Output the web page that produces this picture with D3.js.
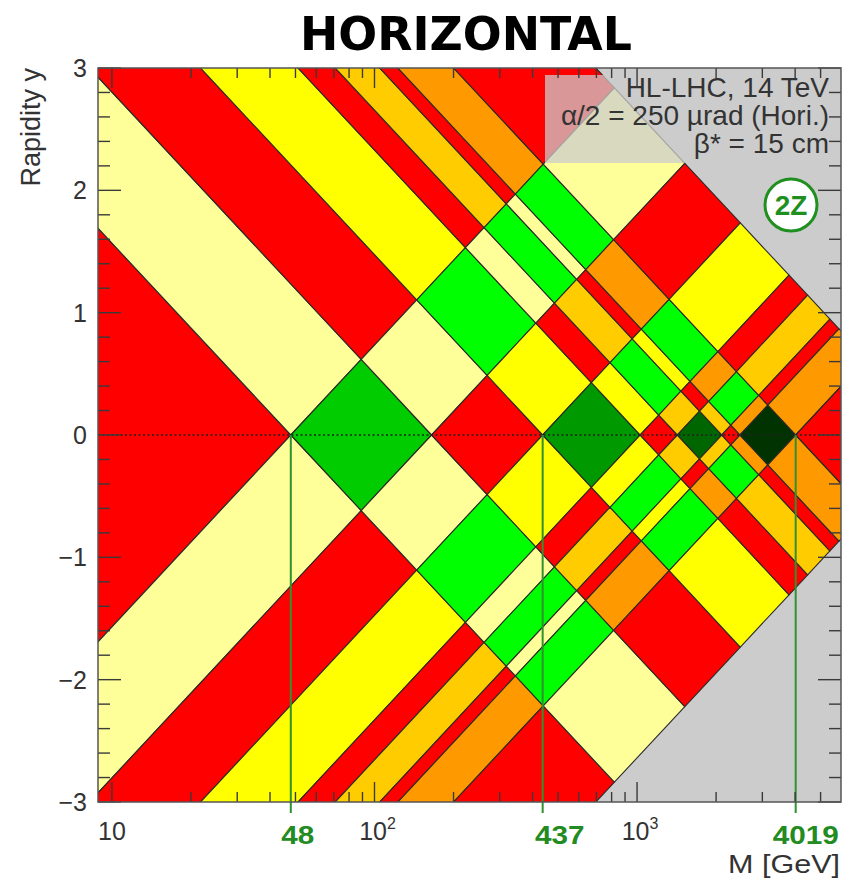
<!DOCTYPE html>
<html><head><meta charset="utf-8">
<script src="https://cdn.jsdelivr.net/npm/d3@7"></script>
<style>body{margin:0;background:#fff}svg{display:block}</style>
</head><body>
<svg id="c" width="858" height="879"></svg>
<script>
// ---- data ----
const sqrtS = 14000; // GeV
// band edges in M = xi * sqrt(s) [GeV]; band k spans bandEdges[k]..bandEdges[k+1]
const bandEdges = [0.001, 48, 165, 437, 1027, 1424, 2102, 2466, 4019, 14000];
// colour code of cell (band of xi1 = row, band of xi2 = column)
const cellCodes = [
  ["R","LY","R","Y","R","GO","R","OR","R"],
  ["LY","D1","LY","G","LY","G","LY","G","LY"],
  ["R","LY","R","Y","R","GO","R","OR","R"],
  ["Y","G","Y","D3","Y","G","Y","G","Y"],
  ["R","LY","R","Y","R","GO","R","OR","R"],
  ["GO","G","GO","G","GO","D5","GO","G","GO"],
  ["R","LY","R","Y","R","GO","R","OR","R"],
  ["OR","G","OR","G","OR","G","OR","D7","OR"],
  ["R","LY","R","Y","R","GO","R","OR","R"]
];
const palette = {R:"#ff0000", LY:"#ffff99", Y:"#ffff00", GO:"#ffcc00", OR:"#ff9900",
  G:"#00ff00", D1:"#00cc00", D3:"#009900", D5:"#006600", D7:"#003300"};
const markMasses = [48, 437, 4019];
const yTickValues = [-3,-2,-1,0,1,2,3];
const xMajorTicks = [10, 100, 1000];
const xMinorTicks = [20,30,40,50,60,70,80,90,200,300,400,500,600,700,800,900,2000,3000,4000,5000];
const legendLines = ["HL-LHC, 14 TeV", "\u03b1/2 = 250 \u00b5rad (Hori.)", "\u03b2* = 15 cm"];

// ---- layout ----
const L=98, R=841, T=68, B=802;
const svg = d3.select("#c");
const x = d3.scaleLog().domain([8.85, 5980]).range([L, R]);
const y = d3.scaleLinear().domain([-3, 3]).range([B, T]);
const font = "'Liberation Sans', Arial, Helvetica, sans-serif";

svg.append("rect").attr("width",858).attr("height",879).attr("fill","#fff");
svg.append("defs").append("clipPath").attr("id","plot")
  .append("rect").attr("x",L).attr("y",T).attr("width",R-L).attr("height",B-T);
const g = svg.append("g").attr("clip-path","url(#plot)");
g.append("rect").attr("x",L).attr("y",T).attr("width",R-L).attr("height",B-T).attr("fill","#cccccc");

const cells = [];
for (let i=0;i<bandEdges.length-1;i++) for (let j=0;j<bandEdges.length-1;j++)
  cells.push({i, j, code: cellCodes[i][j]});
const toPt = (m1, m2) => [x(Math.sqrt(m1*m2)), y(0.5*Math.log(m1/m2))];
g.selectAll("path.cell").data(cells).join("path").attr("class","cell")
  .attr("d", d => {
    const e = bandEdges;
    const p = [toPt(e[d.i],e[d.j]), toPt(e[d.i+1],e[d.j]), toPt(e[d.i+1],e[d.j+1]), toPt(e[d.i],e[d.j+1])];
    return "M" + p.map(q=>q.join(",")).join("L") + "Z";
  })
  .attr("fill", d => palette[d.code])
  .attr("stroke", "#2a2a2a").attr("stroke-width", 1.1).attr("stroke-linejoin","round");

// dotted y=0 line
g.append("line").attr("x1",L).attr("x2",R).attr("y1",y(0)).attr("y2",y(0))
  .attr("stroke","#222").attr("stroke-width",1.6).attr("stroke-dasharray","2,2.5");

// legend box
svg.append("rect").attr("x",545).attr("y",75).attr("width",291).attr("height",88)
  .attr("fill","#cccccc").attr("fill-opacity",0.74);
svg.selectAll("text.leg").data(legendLines).join("text").attr("class","leg")
  .attr("x",829).attr("y",(d,i)=>97+i*28).attr("text-anchor","end")
  .attr("font-family",font).attr("font-size",28).attr("fill","#333").text(d=>d);

// 2Z badge
svg.append("circle").attr("cx",791).attr("cy",205).attr("r",26)
  .attr("fill","#fff").attr("stroke","#1f8f1f").attr("stroke-width",3);
svg.append("text").attr("x",791).attr("y",215).attr("text-anchor","middle")
  .attr("font-family",font).attr("font-weight","bold").attr("font-size",28).attr("fill","#1f8f1f").text("2Z");

// green marker lines
svg.selectAll("line.mark").data(markMasses).join("line").attr("class","mark")
  .attr("x1",d=>x(d)).attr("x2",d=>x(d)).attr("y1",y(0)).attr("y2",B+11)
  .attr("stroke","#2f912f").attr("stroke-width",2);

// frame & ticks
const ax = svg.append("g").attr("stroke","#3a3a3a").attr("stroke-width",1.4);
const yMinor = d3.range(-30,31,2).map(v=>v/10).filter(v=>!yTickValues.includes(v));
yTickValues.forEach(v=>{
  ax.append("line").attr("x1",L).attr("x2",L+23).attr("y1",y(v)).attr("y2",y(v));
  ax.append("line").attr("x1",R).attr("x2",R-23).attr("y1",y(v)).attr("y2",y(v));
});
yMinor.forEach(v=>{
  ax.append("line").attr("x1",L).attr("x2",L+12).attr("y1",y(v)).attr("y2",y(v));
  ax.append("line").attr("x1",R).attr("x2",R-12).attr("y1",y(v)).attr("y2",y(v));
});
xMajorTicks.forEach(v=>{
  ax.append("line").attr("x1",x(v)).attr("x2",x(v)).attr("y1",B).attr("y2",B-20);
  ax.append("line").attr("x1",x(v)).attr("x2",x(v)).attr("y1",T).attr("y2",T+20);
});
xMinorTicks.forEach(v=>{
  ax.append("line").attr("x1",x(v)).attr("x2",x(v)).attr("y1",B).attr("y2",B-10);
  ax.append("line").attr("x1",x(v)).attr("x2",x(v)).attr("y1",T).attr("y2",T+10);
});
svg.append("rect").attr("x",L).attr("y",T).attr("width",R-L).attr("height",B-T)
  .attr("fill","none").attr("stroke","#555").attr("stroke-width",1.5);

// y tick labels
svg.selectAll("text.yt").data(yTickValues).join("text").attr("class","yt")
  .attr("x",87).attr("y",d=>y(d)+9).attr("text-anchor","end")
  .attr("font-family",font).attr("font-size",25).attr("fill","#333")
  .text(d=> d<0 ? "\u2212"+Math.abs(d) : String(d));

// x tick labels
const xl = svg.selectAll("text.xt").data(xMajorTicks).join("text").attr("class","xt")
  .attr("x",d=>x(d)+(d===10?0:3)).attr("y",840).attr("text-anchor","middle")
  .attr("font-family",font).attr("font-size",25).attr("fill","#333");
xl.each(function(d){
  const t=d3.select(this); const e=Math.round(Math.log10(d));
  if (e===1) t.text("10");
  else { t.append("tspan").text("10"); t.append("tspan").attr("font-size",16).attr("dy",-11).text(String(e)); }
});
// green mass labels
const gOff = [7, 17, 10];
svg.selectAll("text.gm").data(markMasses).join("text").attr("class","gm")
  .attr("x",(d,i)=>x(d)+gOff[i]).attr("y",844).attr("text-anchor","middle")
  .attr("font-family",font).attr("font-weight","bold").attr("font-size",26).attr("fill","#228b22")
  .attr("textLength",d=>String(d).length*16.5).attr("lengthAdjust","spacingAndGlyphs")
  .text(d=>String(d));

// axis titles
svg.append("text").attr("transform","translate(40,68) rotate(-90)").attr("text-anchor","end")
  .attr("font-family",font).attr("font-size",27).attr("fill","#333").text("Rapidity y");
svg.append("text").attr("x",840).attr("y",873).attr("text-anchor","end")
  .attr("font-family",font).attr("font-size",25).attr("fill","#333")
  .attr("textLength",112).attr("lengthAdjust","spacingAndGlyphs").text("M [GeV]");

// title
svg.append("text").attr("x",466).attr("y",50).attr("text-anchor","middle")
  .attr("font-family","'DejaVu Sans Condensed','Liberation Sans Narrow','DejaVu Sans',sans-serif")
  .attr("font-weight","bold").attr("font-size",47).attr("fill","#000")
  .attr("textLength",332).attr("lengthAdjust","spacingAndGlyphs").text("HORIZONTAL");
</script>
</body></html>
